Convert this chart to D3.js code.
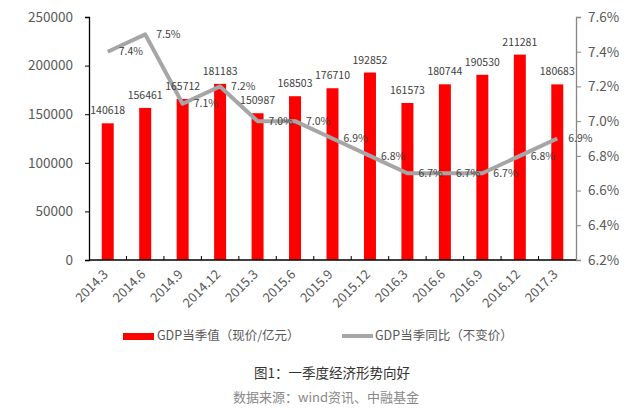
<!DOCTYPE html>
<html><head><meta charset="utf-8">
<script src="https://cdn.jsdelivr.net/npm/d3@7/dist/d3.min.js"></script>
<style>
body{margin:0;background:#fff;}
text{font-family:"Noto Sans CJK SC","Noto Sans",sans-serif;}
</style></head>
<body><svg id="c" width="643" height="409"></svg>
<script>
const categories = ["2014.3","2014.6","2014.9","2014.12","2015.3","2015.6","2015.9","2015.12","2016.3","2016.6","2016.9","2016.12","2017.3"];
const gdpValues = [140618,156461,165712,181183,150987,168503,176710,192852,161573,180744,190530,211281,180683];
const growthValues = [7.4,7.5,7.1,7.2,7.0,7.0,6.9,6.8,6.7,6.7,6.7,6.8,6.9];
const leftTicks = [0,50000,100000,150000,200000,250000];
const rightTicks = [6.2,6.4,6.6,6.8,7.0,7.2,7.4,7.6];
const legendLabels = ["GDP当季值（现价/亿元）","GDP当季同比（不变价）"];
const caption = "图1：一季度经济形势向好";
const source = "数据来源：wind资讯、中融基金";

const svg = d3.select("#c");
svg.append("rect").attr("width",643).attr("height",409).attr("fill","#fff");
const L=89, R=576, T=17, B=260;
const x = d3.scaleBand().domain(categories).range([L,R]).paddingInner(0.68).paddingOuter(0.34);
const yL = d3.scaleLinear().domain([0,250000]).range([B,T]);
const yR = d3.scaleLinear().domain([6.2,7.6]).range([B,T]);
const step = x.step();
const cx = d => x(d)+x.bandwidth()/2;

// bars
svg.append("g").selectAll("rect").data(categories).join("rect")
  .attr("x",d=>x(d)).attr("width",x.bandwidth())
  .attr("y",(d,i)=>yL(gdpValues[i])).attr("height",(d,i)=>B-yL(gdpValues[i]))
  .attr("fill","#ff0000");

// left axis
const gL = svg.append("g").attr("transform",`translate(${L},0)`)
  .call(d3.axisLeft(yL).tickValues(leftTicks).tickSize(4).tickPadding(12).tickFormat(d3.format("d")));
gL.select(".domain").attr("stroke","#000").attr("stroke-width",1.3);
gL.selectAll(".tick line").attr("stroke","#000");
gL.selectAll("text").attr("fill","#595959").attr("font-size",13.5);

// right axis
const gR = svg.append("g").attr("transform",`translate(${R},0)`)
  .call(d3.axisRight(yR).tickValues(rightTicks).tickSize(5).tickPadding(7).tickFormat(d=>d.toFixed(1)+"%"));
gR.select(".domain").attr("stroke","#868686").attr("stroke-width",1.3);
gR.selectAll(".tick line").attr("stroke","#868686");
gR.selectAll("text").attr("fill","#595959").attr("font-size",13.5);

// bottom axis
svg.append("line").attr("x1",L).attr("x2",R).attr("y1",B).attr("y2",B).attr("stroke","#000").attr("stroke-width",1.3);
svg.append("g").selectAll("line").data(categories.slice(1)).join("line")
  .attr("x1",d=>x(d)-x.paddingInner()*step/2).attr("x2",d=>x(d)-x.paddingInner()*step/2)
  .attr("y1",B).attr("y2",B-4).attr("stroke","#000");
svg.append("g").selectAll("text").data(categories).join("text")
  .attr("transform",d=>`translate(${cx(d)-2},${B+12}) rotate(-45)`)
  .attr("text-anchor","end").attr("dy","0.35em")
  .attr("font-size",13).attr("fill","#595959").text(d=>d);

// line
const line = d3.line().x((d,i)=>cx(categories[i])).y(d=>yR(d));
svg.append("path").datum(growthValues).attr("d",line)
  .attr("fill","none").attr("stroke","#a6a6a6").attr("stroke-width",4).attr("stroke-linejoin","round");

// bar labels
svg.append("g").selectAll("text").data(categories).join("text")
  .attr("x",d=>cx(d)).attr("y",(d,i)=>yL(gdpValues[i])-9)
  .attr("text-anchor","middle").attr("font-size",10.5).attr("fill","#404040")
  .text((d,i)=>gdpValues[i]);

// line labels
svg.append("g").selectAll("text").data(categories).join("text")
  .attr("x",d=>cx(d)+11).attr("y",(d,i)=>yR(growthValues[i]))
  .attr("dy","0.35em").attr("font-size",10.5).attr("fill","#404040")
  .text((d,i)=>growthValues[i].toFixed(1)+"%");

// legend
svg.append("rect").attr("x",123).attr("y",333).attr("width",31).attr("height",7).attr("fill","#ff0000");
svg.append("text").attr("x",157).attr("y",336).attr("dy","0.35em").attr("font-size",12.5).attr("fill","#595959").text(legendLabels[0]);
svg.append("line").attr("x1",342).attr("x2",373).attr("y1",336).attr("y2",336).attr("stroke","#a6a6a6").attr("stroke-width",4);
svg.append("text").attr("x",375).attr("y",336).attr("dy","0.35em").attr("font-size",12.5).attr("fill","#595959").text(legendLabels[1]);

// caption
svg.append("text").attr("x",332).attr("y",373).attr("dy","0.35em").attr("text-anchor","middle").attr("font-size",13.5).attr("fill","#333").text(caption);
svg.append("text").attr("x",326).attr("y",397).attr("dy","0.35em").attr("text-anchor","middle").attr("font-size",13).attr("fill","#888").text(source);
</script></body></html>
